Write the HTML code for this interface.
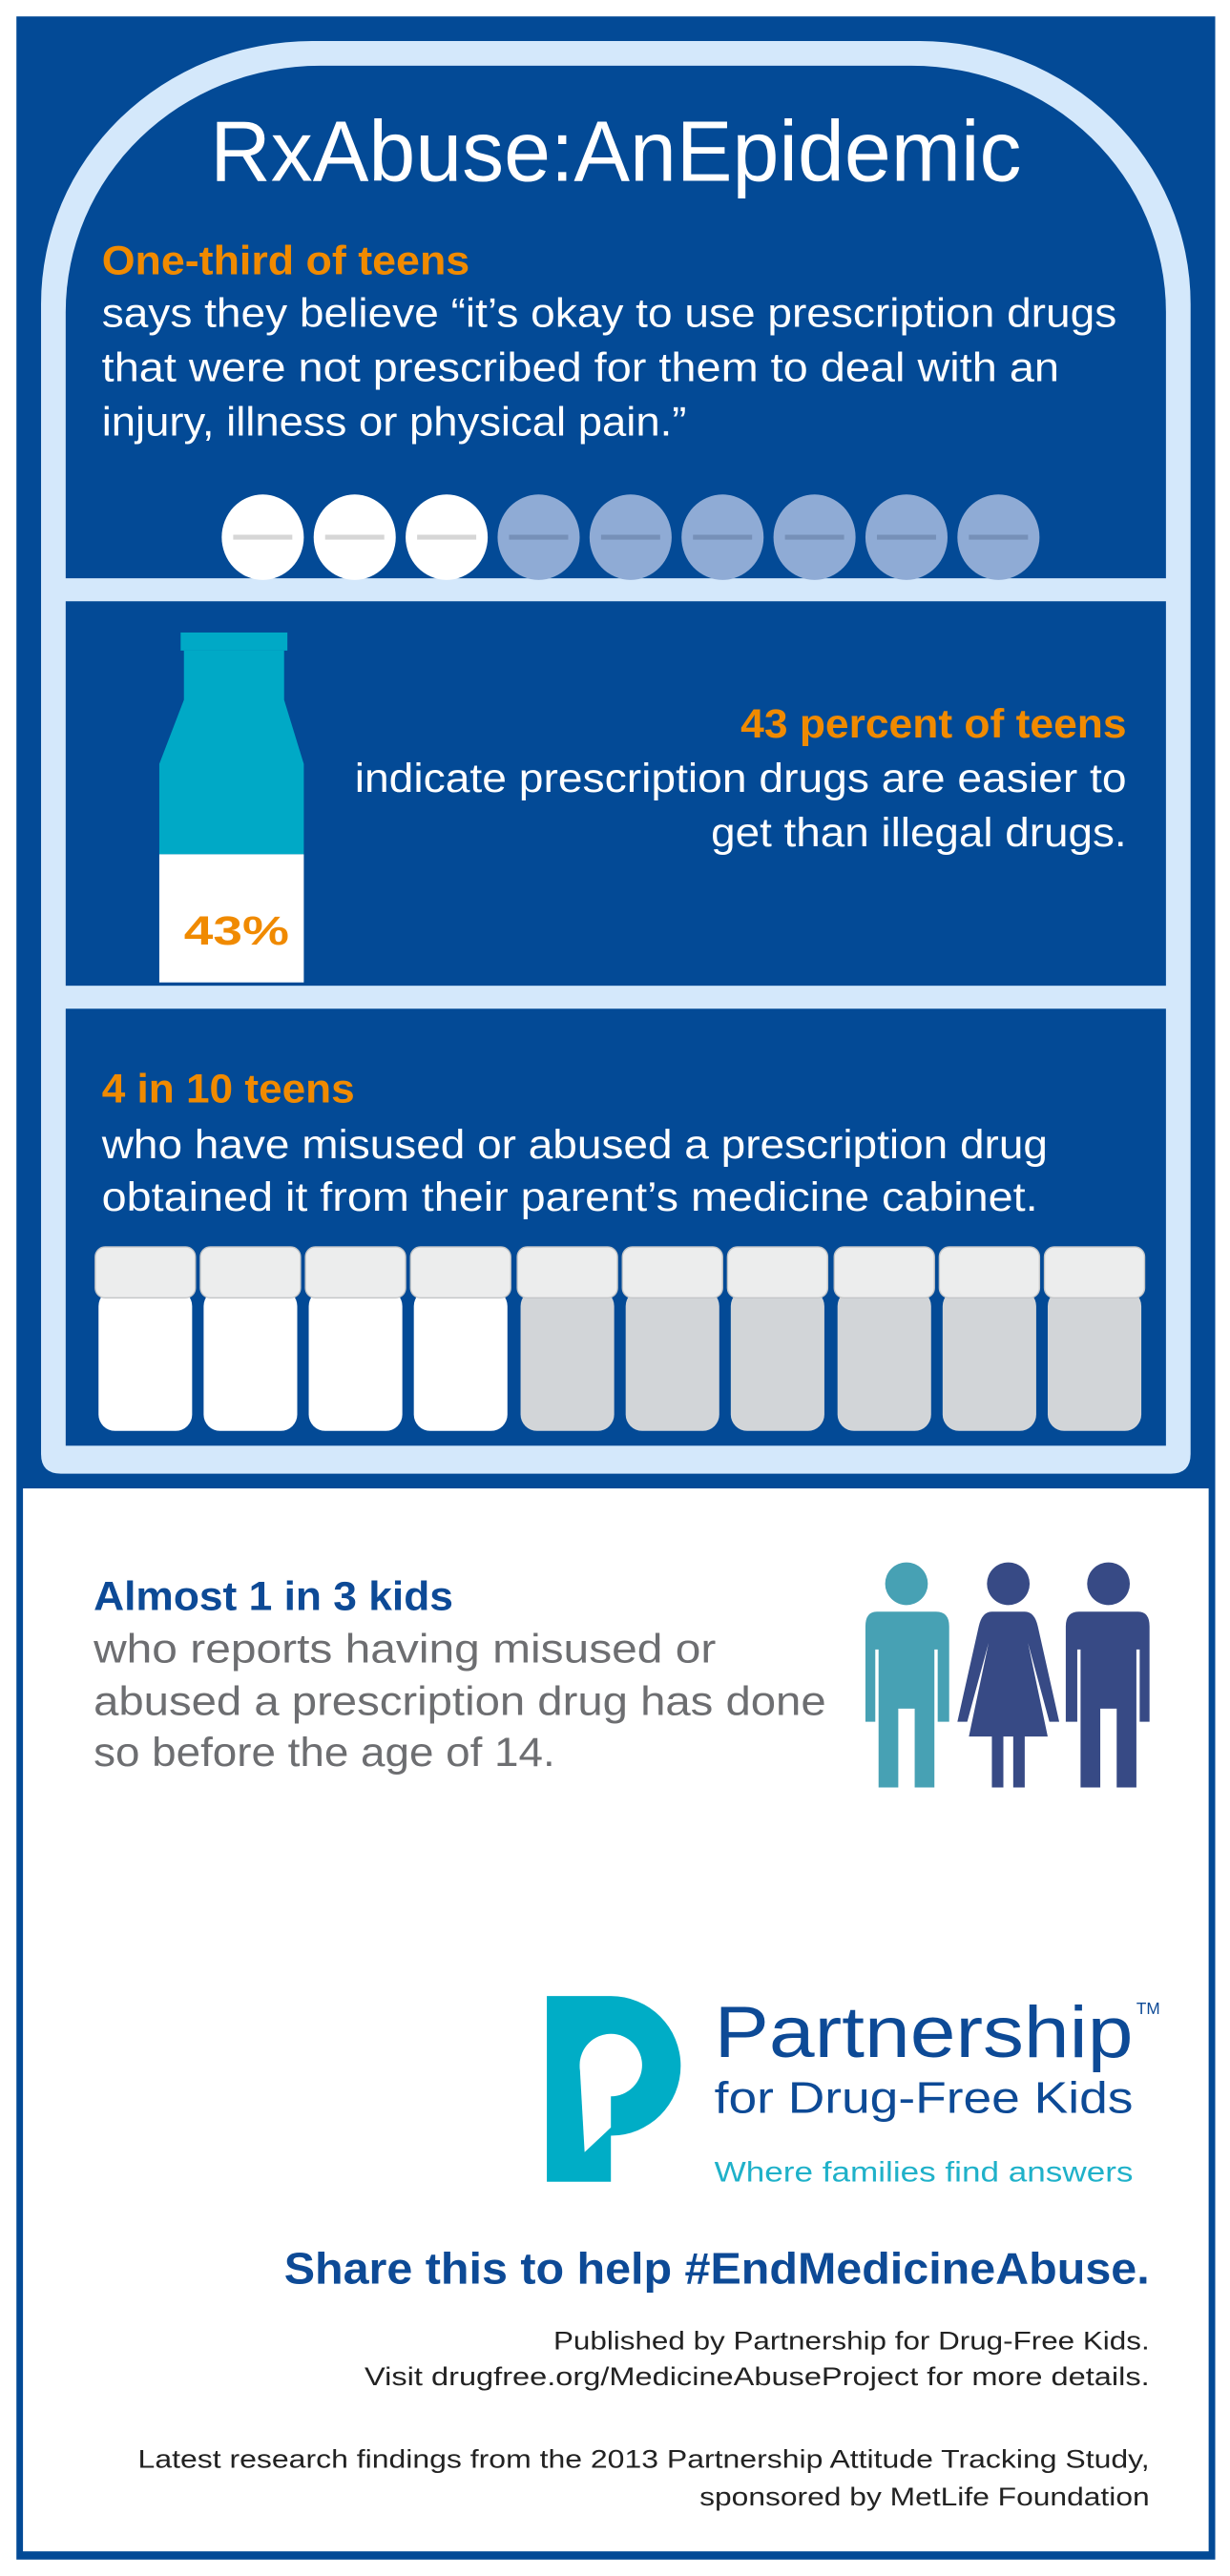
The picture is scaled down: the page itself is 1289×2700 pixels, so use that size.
<!DOCTYPE html>
<html><head><meta charset="utf-8"><style>html,body{margin:0;padding:0;background:#fff}svg{display:block}</style></head>
<body>
<svg width="1289" height="2700" viewBox="0 0 749 1568" preserveAspectRatio="none" xmlns="http://www.w3.org/2000/svg" font-family="Liberation Sans, sans-serif">
<rect x="0" y="0" width="749" height="1568" fill="#fff"/>
<rect x="10" y="10" width="730" height="1548" fill="#034a96"/>
<rect x="14" y="906" width="722" height="647" fill="#fff"/>
<!-- cabinet frame -->
<path d="M25 897 V185 A165 160 0 0 1 190 25 H560 A165 160 0 0 1 725 185 V885 Q725 897 713 897 H37 Q25 897 25 885 Z" fill="#d4e8fb"/>
<path d="M40 352 V190 A155 150 0 0 1 195 40 H555 A155 150 0 0 1 710 190 V352 Z" fill="#034a96"/>
<rect x="40" y="366" width="670" height="234" fill="#034a96"/>
<rect x="40" y="614" width="670" height="266" fill="#034a96"/>
<!-- title -->
<text x="128" y="110" font-size="52" fill="#fff" textLength="494" lengthAdjust="spacingAndGlyphs">RxAbuse:AnEpidemic</text>
<g font-size="25" fill="#fff">
<text x="62" y="167" font-weight="bold" fill="#f08a00" textLength="224" lengthAdjust="spacingAndGlyphs">One-third of teens</text>
<text x="62" y="199" textLength="618" lengthAdjust="spacingAndGlyphs">says they believe “it’s okay to use prescription drugs</text>
<text x="62" y="232" textLength="583" lengthAdjust="spacingAndGlyphs">that were not prescribed for them to deal with an</text>
<text x="62" y="265" textLength="356" lengthAdjust="spacingAndGlyphs">injury, illness or physical pain.”</text>
</g>
<!-- pills -->
<g>
<ellipse cx="160" cy="327" rx="25" ry="26" fill="#fff"/>
<ellipse cx="216" cy="327" rx="25" ry="26" fill="#fff"/>
<ellipse cx="272" cy="327" rx="25" ry="26" fill="#fff"/>
<ellipse cx="328" cy="327" rx="25" ry="26" fill="#8fabd5"/>
<ellipse cx="384" cy="327" rx="25" ry="26" fill="#8fabd5"/>
<ellipse cx="440" cy="327" rx="25" ry="26" fill="#8fabd5"/>
<ellipse cx="496" cy="327" rx="25" ry="26" fill="#8fabd5"/>
<ellipse cx="552" cy="327" rx="25" ry="26" fill="#8fabd5"/>
<ellipse cx="608" cy="327" rx="25" ry="26" fill="#8fabd5"/>
<g stroke-width="3">
<line x1="142" y1="327" x2="178" y2="327" stroke="#d6d6d6"/>
<line x1="198" y1="327" x2="234" y2="327" stroke="#d6d6d6"/>
<line x1="254" y1="327" x2="290" y2="327" stroke="#d6d6d6"/>
<line x1="310" y1="327" x2="346" y2="327" stroke="#7690b8"/>
<line x1="366" y1="327" x2="402" y2="327" stroke="#7690b8"/>
<line x1="422" y1="327" x2="458" y2="327" stroke="#7690b8"/>
<line x1="478" y1="327" x2="514" y2="327" stroke="#7690b8"/>
<line x1="534" y1="327" x2="570" y2="327" stroke="#7690b8"/>
<line x1="590" y1="327" x2="626" y2="327" stroke="#7690b8"/>
</g>
</g>
<!-- bottle -->
<rect x="110" y="385" width="65" height="11" fill="#00a9c6"/>
<rect x="112" y="396" width="61" height="30" fill="#00a9c6"/>
<path d="M112 426 H173 L185 465 V520 H97 V465 Z" fill="#00a9c6"/>
<rect x="97" y="520" width="88" height="78" fill="#fff"/>
<text x="112" y="575" font-size="25" font-weight="bold" fill="#f08a00" textLength="64" lengthAdjust="spacingAndGlyphs">43%</text>
<g font-size="25" fill="#fff" text-anchor="end">
<text x="686" y="449" font-weight="bold" fill="#f08a00" textLength="235" lengthAdjust="spacingAndGlyphs">43 percent of teens</text>
<text x="686" y="482" textLength="470" lengthAdjust="spacingAndGlyphs">indicate prescription drugs are easier to</text>
<text x="686" y="515" textLength="253" lengthAdjust="spacingAndGlyphs">get than illegal drugs.</text>
</g>
<g font-size="25" fill="#fff">
<text x="62" y="671" font-weight="bold" fill="#f08a00" textLength="154" lengthAdjust="spacingAndGlyphs">4 in 10 teens</text>
<text x="62" y="705" textLength="576" lengthAdjust="spacingAndGlyphs">who have misused or abused a prescription drug</text>
<text x="62" y="737" textLength="570" lengthAdjust="spacingAndGlyphs">obtained it from their parent’s medicine cabinet.</text>
</g>
<!-- bottles -->
<g>
<g fill="#fff">
<rect x="60" y="785" width="57" height="86" rx="10"/>
<rect x="124" y="785" width="57" height="86" rx="10"/>
<rect x="188" y="785" width="57" height="86" rx="10"/>
<rect x="252" y="785" width="57" height="86" rx="10"/>
</g>
<g fill="#d2d5d8">
<rect x="317" y="785" width="57" height="86" rx="10"/>
<rect x="381" y="785" width="57" height="86" rx="10"/>
<rect x="445" y="785" width="57" height="86" rx="10"/>
<rect x="510" y="785" width="57" height="86" rx="10"/>
<rect x="574" y="785" width="57" height="86" rx="10"/>
<rect x="638" y="785" width="57" height="86" rx="10"/>
</g>
<g fill="#eceded" stroke="#c4c6c8" stroke-width="0.8">
<rect x="58" y="759" width="61" height="31" rx="6"/>
<rect x="122" y="759" width="61" height="31" rx="6"/>
<rect x="186" y="759" width="61" height="31" rx="6"/>
<rect x="250" y="759" width="61" height="31" rx="6"/>
<rect x="315" y="759" width="61" height="31" rx="6"/>
<rect x="379" y="759" width="61" height="31" rx="6"/>
<rect x="443" y="759" width="61" height="31" rx="6"/>
<rect x="508" y="759" width="61" height="31" rx="6"/>
<rect x="572" y="759" width="61" height="31" rx="6"/>
<rect x="636" y="759" width="61" height="31" rx="6"/>
</g>
</g>
<!-- bottom section -->
<text x="57" y="980" font-size="25" font-weight="bold" fill="#0d4a96" textLength="219" lengthAdjust="spacingAndGlyphs">Almost 1 in 3 kids</text>
<g font-size="25" fill="#6d6e71">
<text x="57" y="1012" textLength="379" lengthAdjust="spacingAndGlyphs">who reports having misused or</text>
<text x="57" y="1044" textLength="446" lengthAdjust="spacingAndGlyphs">abused a prescription drug has done</text>
<text x="57" y="1075" textLength="281" lengthAdjust="spacingAndGlyphs">so before the age of 14.</text>
</g>
<!-- people -->
<g fill="#47a1b4">
<circle cx="552" cy="964" r="13"/>
<path d="M534 981 H570 Q578 981 578 990 V1048 H571 V1004 H569 V1088 H557 V1040 H547 V1088 H535 V1004 H533 V1048 H527 V990 Q527 981 534 981 Z"/>
</g>
<g fill="#374a85">
<circle cx="614" cy="964" r="13"/>
<path d="M604 981 H624 Q630 981 632 990 L645 1048 H639 L626 1000 L638 1057 H624 V1088 H617 V1057 H611 V1088 H604 V1057 H590 L602 1000 L589 1048 H583 L596 990 Q598 981 604 981 Z"/>
<circle cx="675" cy="964" r="13"/>
<path d="M657 981 H693 Q700 981 700 990 V1048 H694 V1004 H692 V1088 H680 V1040 H670 V1088 H658 V1004 H656 V1048 H649 V990 Q649 981 657 981 Z"/>
</g>
<!-- logo -->
<path d="M333 1215 H372 A42 42 0 0 1 372 1300 V1328 H333 Z" fill="#00adc6"/>
<circle cx="372" cy="1257" r="19" fill="#fff"/>
<path d="M353 1257 H372 V1295 L356 1310 Z" fill="#fff"/>
<text x="435" y="1252" font-size="44" fill="#0d4a96" textLength="255" lengthAdjust="spacingAndGlyphs">Partnership</text>
<text x="692" y="1226" font-size="10" fill="#0d4a96">TM</text>
<text x="435" y="1286" font-size="27" fill="#0d4a96" textLength="255" lengthAdjust="spacingAndGlyphs">for Drug-Free Kids</text>
<text x="435" y="1328" font-size="17" fill="#1fb1c9" textLength="255" lengthAdjust="spacingAndGlyphs">Where families find answers</text>
<text x="173" y="1390" font-size="27" font-weight="bold" fill="#0d4a96" textLength="527" lengthAdjust="spacingAndGlyphs">Share this to help #EndMedicineAbuse.</text>
<g font-size="15.5" fill="#222" text-anchor="end">
<text x="700" y="1430" textLength="363" lengthAdjust="spacingAndGlyphs">Published by Partnership for Drug-Free Kids.</text>
<text x="700" y="1452" textLength="478" lengthAdjust="spacingAndGlyphs">Visit drugfree.org/MedicineAbuseProject for more details.</text>
<text x="700" y="1502" textLength="616" lengthAdjust="spacingAndGlyphs">Latest research findings from the 2013 Partnership Attitude Tracking Study,</text>
<text x="700" y="1525" textLength="274" lengthAdjust="spacingAndGlyphs">sponsored by MetLife Foundation</text>
</g>
</svg>
</body></html>
